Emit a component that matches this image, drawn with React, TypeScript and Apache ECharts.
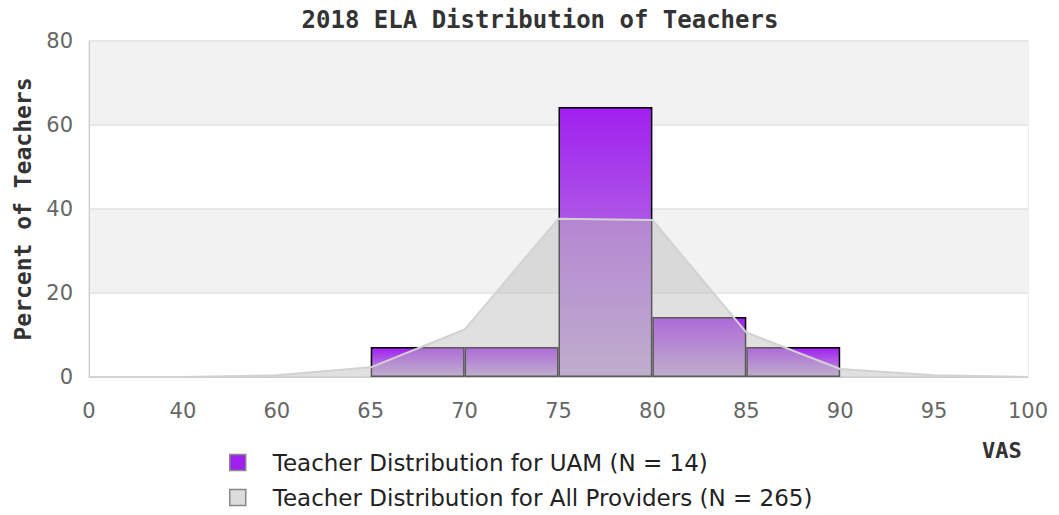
import React, { useEffect, useRef } from "react";
import * as echarts from "echarts";

const tickLabels = ["0", "40", "60", "65", "70", "75", "80", "85", "90", "95", "100"];
const binLabels = ["0-40", "40-60", "60-65", "65-70", "70-75", "75-80", "80-85", "85-90", "90-95", "95-100"];
const uamValues: (number | null)[] = [null, null, null, 7.14, 7.14, 64.29, 14.29, 7.14, null, null];
const allProvidersValues = [0, 0, 0.4, 2.3, 11.3, 37.7, 37.4, 10.6, 1.9, 0.4, 0];

const titleText = "2018 ELA Distribution of Teachers";
const yAxisName = "Percent of Teachers";
const xAxisName = "VAS";
const uamName = "Teacher Distribution for UAM (N = 14)";
const allName = "Teacher Distribution for All Providers (N = 265)";

const MONO = "'DejaVu Sans Mono', monospace";
const SANS = "'DejaVu Sans', sans-serif";

const legendText = { fontFamily: SANS, fontSize: 23, color: "#222", padding: [0, 0, 0, 22] };

export default function App() {
  const ref = useRef<HTMLDivElement>(null);
  useEffect(() => {
    document.body.style.margin = "0";
    const chart = echarts.init(ref.current!, null, { renderer: "svg" });
    chart.setOption({
      animation: false,
      backgroundColor: "#ffffff",
      title: {
        text: titleText,
        left: 535,
        textAlign: "center",
        top: 3,
        textStyle: { fontFamily: MONO, fontWeight: "bold", fontSize: 24, color: "#333" },
      },
      grid: {
        left: 89,
        right: 31,
        top: 41,
        bottom: 138,
        show: true,
        borderColor: "#dddddd",
        borderWidth: 1,
        backgroundColor: "transparent",
        outerBoundsMode: "none",
        containLabel: false,
      },
      legend: [
        {
          orient: "vertical",
          left: 224,
          top: 446,
          itemWidth: 16,
          itemHeight: 16,
          icon: "rect",
          textStyle: legendText,
          data: [{ name: uamName, itemStyle: { color: "#a020f0", borderColor: "#888", borderWidth: 1.5 } }],
        },
        {
          orient: "vertical",
          left: 224,
          top: 481,
          itemWidth: 16,
          itemHeight: 16,
          icon: "rect",
          textStyle: legendText,
          data: [{ name: allName, itemStyle: { color: "#dcdcdc", borderColor: "#888", borderWidth: 1.5 } }],
        },
      ],
      xAxis: [
        {
          type: "category",
          data: tickLabels,
          boundaryGap: false,
          axisLine: { show: true, lineStyle: { color: "#cccccc" } },
          axisTick: { show: false },
          axisLabel: { fontFamily: SANS, fontSize: 21, color: "#666", margin: 23 },
          splitLine: { show: false },
        },
        {
          type: "category",
          data: binLabels,
          boundaryGap: true,
          show: false,
          position: "bottom",
        },
      ],
      yAxis: {
        type: "value",
        min: 0,
        max: 80,
        interval: 20,
        name: yAxisName,
        nameLocation: "middle",
        nameGap: 55,
        nameRotate: 90,
        nameTextStyle: { fontFamily: MONO, fontWeight: "bold", fontSize: 23, color: "#333" },
        axisLine: { show: true, lineStyle: { color: "#cccccc" } },
        axisTick: { show: false },
        axisLabel: { fontFamily: SANS, fontSize: 21, color: "#666", margin: 16 },
        splitLine: { show: true, lineStyle: { color: "#e2e2e2", width: 1.5 } },
        splitArea: { show: true, areaStyle: { color: ["#ffffff", "#f2f2f2"] } },
      },
      graphic: [
        {
          type: "text",
          left: 982,
          top: 439,
          style: { text: xAxisName, fontFamily: MONO, fontWeight: "bold", fontSize: 22, fill: "#333" },
        },
      ],
      series: [
        {
          name: uamName,
          type: "bar",
          xAxisIndex: 1,
          data: uamValues.map((v) => (v === null ? "-" : v)),
          barWidth: "100%",
          barGap: "0%",
          z: 2,
          itemStyle: {
            color: new echarts.graphic.LinearGradient(0, 0, 0, 1, [
              { offset: 0, color: "#a020f0" },
              { offset: 1, color: "#c0a0d8" },
            ]),
            borderColor: "#000000",
            borderWidth: 1.5,
          },
        },
        {
          name: allName,
          type: "line",
          xAxisIndex: 0,
          data: allProvidersValues,
          symbol: "none",
          z: 3,
          lineStyle: { color: "#d2d2d2", width: 2 },
          itemStyle: { color: "#dcdcdc" },
          areaStyle: { color: "rgba(190,190,190,0.68)" },
        },
      ],
    });
    return () => chart.dispose();
  }, []);
  return <div ref={ref} style={{ width: 1059, height: 515 }} />;
}
